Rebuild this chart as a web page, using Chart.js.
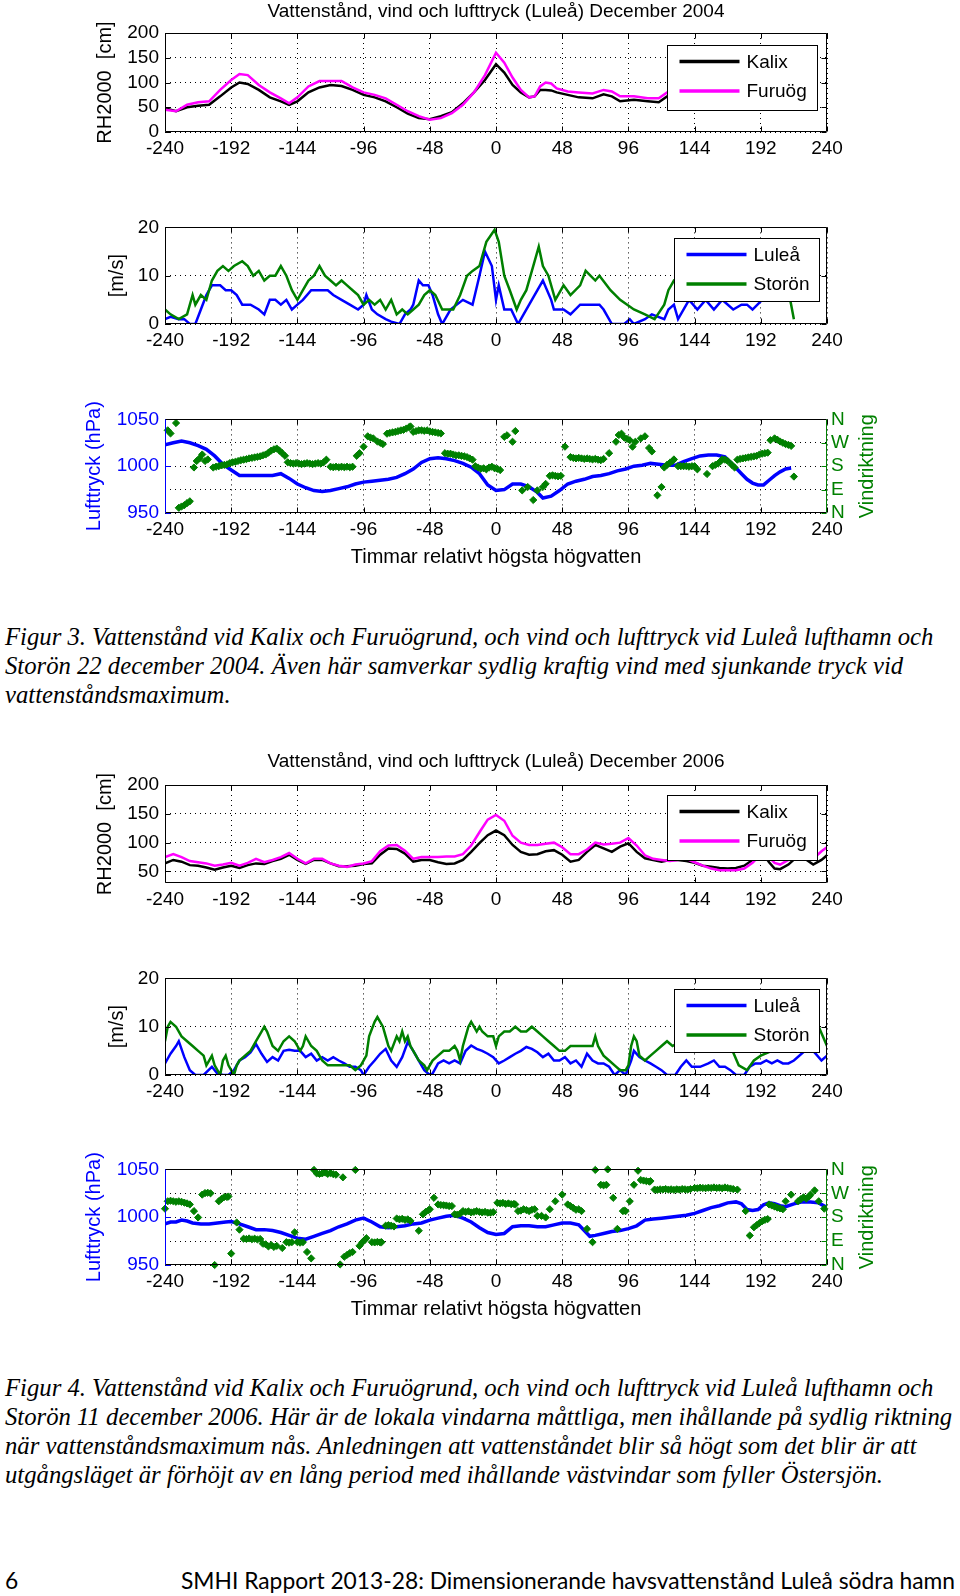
<!DOCTYPE html>
<html lang="sv">
<head>
<meta charset="utf-8">
<title>Vattenstånd, vind och lufttryck (Luleå)</title>
<script src="https://cdn.jsdelivr.net/npm/chart.js@4.4.1/dist/chart.umd.min.js"></script>
<style>
  html, body { margin: 0; padding: 0; background: #fff; }
  body { position: relative; width: 960px; height: 1596px; overflow: hidden; }
  canvas { position: absolute; left: 0; }
  .caption { position: absolute; left: 5px; font-family: "Liberation Serif", "Times New Roman", serif; font-style: italic; font-size: 24.7px; line-height: 29px; white-space: nowrap; color: #000; }
  .footer { position: absolute; top: 1565px; font-family: Lato, Calibri, sans-serif; font-size: 22.8px; line-height: 30px; white-space: nowrap; color: #000; }
</style>
</head>
<body>
<canvas id="lvl04" width="960" height="162" style="top:0px"></canvas>
<canvas id="wind04" width="960" height="144" style="top:210px"></canvas>
<canvas id="pres04" width="960" height="167" style="top:402px"></canvas>
<div class="caption" style="top:622px">Figur 3. Vattenstånd vid Kalix och Furuögrund, och vind och lufttryck vid Luleå lufthamn och<br>Storön 22 december 2004. Även här samverkar sydlig kraftig vind med sjunkande tryck vid<br>vattenståndsmaximum.</div>
<canvas id="lvl06" width="960" height="163" style="top:750px"></canvas>
<canvas id="wind06" width="960" height="144" style="top:961px"></canvas>
<canvas id="pres06" width="960" height="169" style="top:1152px"></canvas>
<div class="caption" style="top:1373px">Figur 4. Vattenstånd vid Kalix och Furuögrund, och vind och lufttryck vid Luleå lufthamn och<br>Storön 11 december 2006. Här är de lokala vindarna måttliga, men ihållande på sydlig riktning<br>när vattenståndsmaximum nås. Anledningen att vattenståndet blir så högt som det blir är att<br>utgångsläget är förhöjt av en lång period med ihållande västvindar som fyller Östersjön.</div>
<div class="footer" style="left:5px">6</div>
<div class="footer" style="left:181px">SMHI Rapport 2013-28: Dimensionerande havsvattenstånd Luleå södra hamn</div>

<script>
// tick labels
var hourTicks = [-240, -192, -144, -96, -48, 0, 48, 96, 144, 192, 240];
var levelTicks04 = [0, 50, 100, 150, 200];
var levelTicks06 = [50, 100, 150, 200];
var windTicks = [0, 10, 20];
var pressureTicks = [950, 1000, 1050];
var directionTicks = [0, 90, 180, 270, 360];
var directionLabels = ['N', 'E', 'S', 'W', 'N'];

// December 2004: water level (cm, RH2000)
var level04Hours = [-240, -232, -224, -216, -208, -200, -192, -186, -180, -172, -164, -156, -150, -144, -136, -128, -120, -112, -104, -96, -88, -80, -72, -64, -56, -48, -40, -32, -24, -16, -8, 0, 6, 12, 18, 24, 28, 32, 36, 40, 44, 52, 60, 70, 78, 84, 90, 100, 110, 118, 124, 140];
var kalix04 = [48, 42, 50, 53, 55, 72, 90, 100, 97, 85, 70, 62, 55, 62, 80, 90, 95, 93, 85, 75, 70, 62, 50, 37, 28, 26, 32, 40, 58, 80, 105, 137, 120, 95, 80, 70, 72, 85, 85, 84, 80, 75, 70, 68, 76, 72, 62, 65, 62, 60, 72, 80];
var furuog04 = [45, 42, 55, 60, 62, 85, 105, 117, 115, 95, 80, 68, 58, 70, 92, 103, 103, 103, 90, 80, 75, 68, 55, 42, 32, 25, 28, 38, 55, 80, 115, 160, 140, 110, 85, 70, 72, 92, 100, 98, 88, 82, 80, 78, 85, 82, 72, 72, 68, 68, 80, 85];

// December 2004: wind speed (m/s)
var lulea04Hours = [-240, -236, -230, -226, -222, -218, -214, -210, -206, -200, -196, -192, -188, -184, -178, -172, -168, -164, -160, -156, -152, -148, -144, -140, -134, -128, -122, -118, -112, -106, -100, -96, -94, -90, -86, -80, -76, -70, -66, -62, -60, -56, -53, -49, -46, -42, -39, -33, -24, -17, -12, -8, -3, 0, 2, 6, 11, 16, 20, 26, 34, 40, 42, 49, 54, 61, 75, 78, 84, 93, 97, 100, 108, 113, 122, 125, 129, 132, 140, 146, 152, 158, 164, 172, 178, 182, 186, 193];
var lulea04 = [1, 1.5, 1, 1, 0, 0, 3, 6, 8, 8, 7, 7, 6, 4, 4, 3, 2, 5, 5, 4, 5, 3, 4, 5, 7, 7, 7, 6, 5, 4, 3, 4, 6, 3, 2, 1, 0.5, 0, 2, 3, 4, 9, 8, 8, 6, 2, 0, 3, 5, 4, 10, 15, 12, 5, 8, 3, 3, 0, 2, 5, 9, 5, 3, 3, 2, 4, 4, 3, 0, 0, 1, 0, 1, 2, 1, 3, 4, 1, 5, 3, 5, 3, 5, 3, 4, 4, 3, 5];
var storon04Hours = [-240, -236, -230, -224, -220, -218, -214, -210, -206, -202, -198, -194, -190, -184, -180, -176, -172, -168, -164, -160, -156, -152, -148, -144, -140, -136, -132, -128, -124, -120, -116, -112, -108, -104, -100, -96, -92, -88, -84, -80, -76, -72, -68, -64, -60, -56, -52, -48, -44, -39, -31, -26, -21, -17, -12, -7, -1, 2, 6, 10, 15, 18, 22, 27, 31, 34, 38, 43, 49, 54, 61, 65, 72, 75, 83, 90, 100, 108, 115, 122, 125, 129, 140, 160, 180, 200, 212, 214, 216];
var storon04 = [3, 2, 1, 2, 6, 4, 6, 5, 9, 11, 12, 11, 12, 13, 12, 10, 11, 9, 10, 10, 12, 10, 7, 5, 7, 9, 10, 12, 10, 9, 8, 9, 8, 7, 6, 4, 5, 4, 5, 3, 5, 2, 3, 2, 3, 4, 6, 7, 6, 3, 3, 6, 10, 11, 12, 17, 19.5, 17, 10, 7, 3, 5, 7, 12, 16, 12, 10, 5, 8, 6, 8, 11, 9, 10, 7, 5, 3, 2, 1, 4, 7, 9, 8, 9, 8, 8, 7, 4, 1];

// December 2004: air pressure (hPa) and wind direction (degrees)
var pressure04Hours = [-240, -234, -228, -222, -216, -210, -204, -198, -192, -186, -180, -174, -168, -162, -156, -150, -144, -138, -132, -126, -120, -114, -108, -102, -96, -90, -84, -78, -72, -66, -60, -54, -48, -42, -36, -30, -24, -18, -12, -6, 0, 6, 12, 18, 24, 30, 34, 40, 46, 52, 58, 64, 70, 76, 82, 88, 94, 100, 106, 112, 118, 124, 130, 136, 142, 148, 154, 160, 166, 170, 174, 178, 182, 186, 190, 194, 198, 202, 206, 210, 214];
var pressure04 = [1023, 1025, 1027, 1025, 1022, 1018, 1011, 1002, 996, 990, 990, 990, 990, 990, 992, 987, 981, 977, 974, 973, 974, 976, 978, 981, 983, 984, 985, 986, 988, 992, 997, 1004, 1008, 1009, 1008, 1006, 1003, 999, 992, 980, 974, 975, 981, 981, 978, 972, 966, 968, 974, 981, 984, 986, 989, 990, 992, 995, 997, 1000, 1001, 1003, 1002, 1001, 1001, 1005, 1008, 1011, 1012, 1012, 1010, 1004, 998, 992, 986, 982, 980, 980, 985, 990, 994, 997, 998];
var direction04Hours = [-238, -236, -232, -230, -228, -226, -224, -222, -219, -217, -215, -213, -211, -209, -205, -203, -201, -199, -197, -195, -193, -191, -189, -187, -185, -183, -181, -179, -177, -175, -173, -171, -169, -167, -165, -163, -161, -159, -157, -155, -153, -151, -149, -147, -145, -143, -141, -139, -137, -135, -133, -131, -129, -127, -125, -123, -120, -118, -116, -114, -112, -110, -108, -106, -104, -101, -99, -96, -93, -91, -89, -86, -84, -82, -79, -77, -75, -73, -71, -69, -67, -65, -63, -62, -60, -58, -56, -54, -52, -50, -48, -46, -44, -42, -40, -37, -35, -33, -31, -29, -27, -25, -23, -21, -19, -17, -15, -13, -11, -9, -7, -5, -3, -1, 1, 3, 6, 8, 12, 14, 19, 23, 27, 30, 34, 36, 39, 41, 43, 45, 47, 50, 54, 56, 58, 60, 62, 64, 66, 68, 70, 72, 74, 76, 78, 82, 87, 89, 91, 93, 95, 97, 99, 101, 105, 108, 111, 113, 117, 120, 122, 124, 126, 128, 129, 132, 134, 136, 138, 140, 142, 144, 146, 153, 157, 159, 161, 163, 164, 166, 168, 171, 173, 175, 177, 179, 181, 183, 185, 187, 189, 191, 193, 195, 197, 199, 202, 204, 206, 208, 210, 212, 214, 216];
var direction04 = [318, 306, 346, 20, 25, 30, 38, 45, 175, 200, 210, 225, 200, 206, 175, 178, 180, 183, 185, 187, 192, 195, 197, 200, 203, 205, 207, 210, 212, 214, 216, 218, 222, 225, 232, 240, 245, 248, 240, 230, 220, 195, 192, 190, 192, 190, 188, 190, 192, 190, 188, 190, 192, 190, 195, 205, 178, 176, 178, 176, 178, 176, 178, 176, 178, 220, 230, 255, 295, 290, 287, 275, 270, 265, 305, 308, 310, 312, 315, 318, 320, 325, 330, 333, 312, 315, 318, 318, 316, 318, 314, 312, 310, 308, 306, 230, 228, 228, 225, 222, 222, 220, 218, 215, 210, 205, 180, 175, 170, 172, 168, 175, 178, 172, 170, 165, 293, 299, 274, 315, 87, 100, 50, 87, 100, 112, 143, 145, 143, 141, 143, 255, 215, 212, 210, 212, 210, 208, 210, 208, 206, 208, 205, 203, 208, 230, 274, 300, 305, 290, 285, 280, 255, 274, 287, 295, 250, 237, 68, 100, 175, 185, 193, 200, 206, 180, 180, 180, 180, 178, 180, 180, 168, 150, 180, 185, 190, 200, 206, 205, 200, 185, 175, 205, 208, 210, 212, 214, 216, 218, 220, 225, 228, 230, 232, 280, 287, 282, 275, 270, 265, 262, 258, 140];

// December 2006: water level (cm, RH2000)
var level06Hours = [-240, -234, -228, -222, -216, -210, -204, -198, -192, -186, -180, -174, -168, -162, -156, -150, -144, -138, -132, -126, -120, -114, -108, -102, -96, -90, -84, -78, -72, -66, -60, -54, -48, -42, -36, -30, -24, -18, -12, -6, 0, 6, 12, 18, 24, 30, 36, 42, 48, 54, 60, 66, 72, 78, 84, 90, 96, 102, 108, 114, 120, 126, 132, 138, 144, 150, 156, 162, 168, 174, 180, 186, 190, 194, 198, 202, 206, 212, 218, 224, 230, 236, 240];
var kalix06 = [64, 70, 67, 61, 60, 57, 53, 57, 60, 56, 61, 64, 63, 68, 72, 79, 70, 63, 70, 70, 64, 59, 59, 60, 63, 64, 79, 90, 89, 81, 67, 70, 70, 66, 63, 64, 70, 84, 99, 113, 121, 113, 96, 84, 79, 80, 85, 87, 79, 67, 70, 84, 96, 90, 84, 93, 99, 84, 73, 70, 67, 70, 70, 68, 65, 60, 58, 56, 55, 56, 60, 70, 80, 80, 66, 55, 54, 62, 75, 72, 62, 70, 78];
var furuog06 = [75, 80, 75, 68, 66, 64, 60, 62, 65, 60, 65, 72, 66, 70, 75, 82, 72, 64, 72, 72, 64, 60, 58, 62, 64, 68, 85, 95, 96, 86, 72, 75, 75, 75, 76, 76, 80, 95, 118, 140, 148, 138, 112, 100, 96, 96, 98, 100, 92, 80, 80, 88, 100, 97, 98, 100, 108, 95, 78, 72, 70, 68, 70, 72, 66, 60, 55, 52, 52, 52, 55, 65, 75, 82, 75, 65, 62, 70, 80, 78, 72, 85, 92];

// December 2006: wind speed (m/s)
var lulea06Hours = [-240, -236, -232, -230, -226, -222, -218, -212, -206, -202, -198, -194, -190, -186, -182, -178, -174, -170, -166, -162, -158, -154, -150, -146, -142, -138, -134, -130, -126, -122, -118, -114, -110, -106, -102, -98, -96, -92, -88, -84, -80, -76, -72, -68, -64, -60, -56, -52, -48, -46, -42, -38, -34, -30, -26, -22, -18, -14, -10, -6, -2, 2, 6, 10, 14, 18, 22, 26, 30, 34, 38, 42, 46, 50, 54, 58, 62, 66, 70, 74, 78, 82, 86, 90, 94, 98, 100, 104, 108, 112, 116, 120, 124, 130, 134, 138, 142, 148, 154, 158, 162, 166, 170, 174, 180, 184, 188, 192, 196, 200, 204, 208, 212, 216, 224, 230, 236, 240];
var lulea06 = [2.4, 4.4, 6, 7, 3.7, 1, 0, 0, 1.7, 0.3, 0, 0, 1, 3, 3.7, 4.7, 6.4, 4.4, 2.7, 3.7, 3, 5, 5.2, 5, 5, 3.7, 4.4, 3, 3.7, 3, 3.7, 3, 2.4, 1.7, 1.7, 1, 0, 1.7, 3, 4.4, 5.4, 3, 1.7, 3.7, 6.8, 5, 3, 1, 0, 0.3, 2.4, 3, 2.4, 3, 2.4, 5, 6.1, 5.4, 5, 4.4, 3.7, 2.4, 3, 3.7, 4.4, 5, 5.8, 5.4, 4.7, 3.7, 4.4, 3, 3, 3.7, 2.4, 3, 1.7, 4.4, 3, 2.4, 2.4, 1.7, 0, 1, 0, 3, 5, 3.7, 3, 2.4, 1.7, 1, 0, 0, 1.7, 3, 1.7, 1.7, 2.4, 3, 1.7, 1.7, 1, 0, 0, 1.7, 2.4, 2.4, 3, 2.4, 3, 2.4, 2.4, 3, 5, 5, 3, 4];
var storon06Hours = [-240, -238, -236, -232, -228, -224, -220, -216, -212, -210, -208, -206, -204, -202, -200, -198, -196, -194, -192, -190, -188, -186, -182, -178, -174, -170, -168, -166, -162, -158, -154, -150, -146, -142, -140, -138, -134, -130, -126, -122, -118, -114, -110, -106, -102, -98, -94, -92, -88, -86, -82, -80, -78, -76, -72, -70, -68, -66, -64, -62, -60, -58, -56, -52, -50, -48, -46, -42, -38, -34, -30, -28, -26, -24, -22, -20, -18, -16, -14, -12, -10, -6, -2, 0, 2, 6, 10, 14, 18, 22, 26, 30, 34, 38, 42, 46, 50, 54, 58, 62, 66, 70, 72, 74, 78, 82, 86, 90, 94, 96, 98, 100, 102, 104, 108, 112, 116, 120, 124, 128, 140, 155, 170, 176, 182, 187, 192, 200, 210, 218, 226, 234, 240];
var storon06 = [7, 10, 11, 10, 8, 7, 6, 5, 4, 2, 3, 4, 2, 1, 0, 3, 4, 2, 1, 0, 2, 3, 4, 5, 7, 9, 10, 9, 6, 5, 7, 8, 7, 5, 6, 8, 6, 5, 3, 2, 2, 2, 2, 2, 1, 2, 4, 8, 11, 12, 10, 8, 6, 5, 8, 7, 9, 7, 8, 6, 5, 4, 3, 2, 1, 2, 3, 4, 5, 5, 6, 5, 3, 6, 8, 10, 11, 10, 9, 10, 9, 8, 8, 6, 8, 9, 9, 10, 9, 9, 10, 9, 8, 7, 6, 5, 5, 6, 6, 6, 6, 6, 8, 6, 4, 3, 2, 1, 1, 2, 6, 8, 7, 4, 3, 4, 5, 6, 7, 6, 8, 7, 6, 2, 1, 3, 4, 5, 6, 8, 8, 10, 6];

// December 2006: air pressure (hPa) and wind direction (degrees)
var pressure06Hours = [-240, -236, -232, -228, -224, -220, -214, -208, -202, -196, -192, -186, -180, -174, -168, -162, -156, -150, -144, -138, -132, -126, -120, -114, -108, -102, -96, -90, -84, -78, -72, -66, -60, -54, -48, -42, -36, -30, -24, -18, -12, -6, 0, 6, 12, 18, 24, 30, 36, 42, 48, 54, 60, 64, 68, 72, 78, 84, 90, 96, 102, 108, 114, 120, 126, 132, 138, 144, 150, 156, 162, 168, 174, 178, 182, 186, 190, 194, 198, 202, 206, 210, 216, 222, 228, 234, 240];
var pressure06 = [993, 995, 995, 997, 996, 994, 993, 993, 994, 995, 995.5, 993, 990, 987, 987, 986, 984, 981, 978, 977, 980, 983, 986, 990, 993, 997, 999, 995, 990, 989, 990, 991, 993, 994, 997, 999, 1001, 1002, 999, 995, 989, 984, 982, 983, 990, 991, 991, 990, 990, 992, 994, 994, 992, 986, 980, 981, 983, 985, 986, 988, 991, 997, 998, 999, 1000, 1001, 1002, 1004, 1007, 1010, 1012, 1015, 1016, 1014, 1008, 1007, 1008, 1013, 1015, 1014, 1012, 1011, 1014, 1016, 1016, 1015, 1010];
var direction06Hours = [-240, -238, -236, -234, -232, -230, -228, -226, -224, -222, -219, -216, -213, -211, -209, -207, -204, -201, -199, -197, -195, -194, -192, -188, -186, -183, -181, -179, -177, -175, -173, -171, -169, -167, -165, -163, -161, -159, -155, -152, -150, -148, -146, -144, -142, -140, -137, -134, -132, -130, -128, -126, -124, -122, -120, -118, -116, -113, -111, -110, -108, -106, -104, -102, -99, -97, -95, -94, -90, -88, -86, -84, -83, -80, -78, -76, -74, -72, -70, -68, -66, -64, -62, -56, -53, -51, -49, -48, -45, -42, -40, -38, -36, -34, -32, -30, -28, -26, -24, -22, -20, -18, -16, -14, -12, -10, -8, -6, -4, -2, 1, 3, 5, 7, 9, 11, 13, 14, 16, 18, 20, 22, 24, 26, 28, 30, 33, 36, 39, 43, 48, 52, 54, 56, 58, 60, 62, 66, 70, 72, 76, 78, 80, 81, 85, 88, 92, 93, 94, 97, 100, 103, 105, 107, 109, 111, 112, 115, 117, 119, 121, 123, 125, 127, 129, 131, 133, 135, 137, 139, 141, 144, 146, 148, 150, 152, 154, 156, 158, 160, 162, 164, 166, 168, 170, 172, 175, 181, 184, 187, 189, 191, 193, 195, 197, 198, 200, 202, 204, 206, 208, 210, 214, 219, 221, 223, 225, 227, 228, 231, 234, 238];
var direction06 = [212, 240, 242, 240, 238, 240, 238, 235, 232, 228, 203, 179, 265, 271, 272, 270, 0, 240, 249, 256, 256, 258, 43, 160, 133, 99, 98, 100, 97, 99, 96, 98, 80, 78, 70, 75, 68, 72, 64, 86, 84, 86, 123, 86, 84, 86, 49, 25, 358, 345, 343, 345, 348, 343, 346, 342, 340, 2, 330, 31, 38, 45, 49, 358, 72, 85, 95, 101, 86, 85, 87, 85, 86, 148, 150, 148, 145, 175, 172, 174, 170, 172, 166, 129, 191, 200, 206, 210, 253, 228, 226, 225, 224, 222, 222, 191, 190, 193, 203, 200, 202, 198, 200, 203, 200, 198, 200, 197, 197, 199, 234, 232, 234, 230, 232, 229, 230, 228, 203, 205, 210, 207, 203, 208, 210, 185, 185, 179, 210, 240, 265, 228, 222, 215, 208, 210, 203, 136, 86, 358, 302, 300, 302, 360, 253, 136, 203, 205, 203, 240, 302, 355, 320, 318, 316, 314, 316, 284, 283, 285, 284, 286, 284, 285, 283, 285, 284, 286, 285, 284, 286, 290, 289, 291, 290, 289, 291, 290, 292, 290, 291, 289, 292, 290, 288, 286, 284, 203, 111, 142, 150, 158, 165, 170, 173, 228, 224, 220, 216, 213, 210, 240, 265, 240, 248, 255, 250, 258, 265, 281, 240, 212];

var BLACK = '#000000', MAGENTA = '#ff00ff', BLUE = '#0000ff', GREEN = '#008000';
var DOT = [1, 4];
var FONT = '"Liberation Sans", Arial, sans-serif';

Chart.defaults.font.family = FONT;
Chart.defaults.font.size = 19;
Chart.defaults.color = BLACK;

function pts(xs, ys) {
    return xs.map(function (x, i) { return { x: x, y: ys[i] }; });
}

function fixedTicks(list) {
    return function (axis) { axis.ticks = list.map(function (v) { return { value: v }; }); };
}

function xScale(withTitle) {
    return {
        type: 'linear', min: -240, max: 240,
        afterBuildTicks: fixedTicks(hourTicks),
        afterFit: function (axis) { axis.height = withTitle ? 56 : 30; },
        ticks: { padding: 5, autoSkip: false, maxRotation: 0, callback: function (v) { return String(v); } },
        grid: { color: BLACK, lineWidth: 1, drawTicks: false },
        border: { display: false, dash: DOT },
        title: {
            display: withTitle, text: 'Timmar relativt högsta högvatten',
            font: { size: 20 }, padding: { top: 0, bottom: 0 }
        }
    };
}

function yScale(min, max, list, title, titleX, color, grid) {
    return {
        type: 'linear', position: 'left', min: min, max: max,
        afterBuildTicks: fixedTicks(list),
        afterFit: function (axis) { axis.width = 165; },
        ticks: { padding: 6, color: color, autoSkip: false, callback: function (v) { return String(v); } },
        grid: { display: grid, color: BLACK, lineWidth: 1, drawTicks: false },
        border: { display: false, dash: DOT },
        title: { display: true, text: title, color: color, font: { size: 20 }, padding: { top: titleX - 12, bottom: 0 } }
    };
}

// box, inward tick marks, legend and right-hand title
var framePlugin = {
    id: 'frame',
    afterDatasetsDraw: function (chart, args, opts) {
        var a = chart.chartArea, ctx = chart.ctx;
        var xs = chart.scales.x, ys = chart.scales.y, y2 = chart.scales.y2;
        var L = Math.round(a.left) + 0.5, R = Math.round(a.right) - 0.5;
        var T = Math.round(a.top) + 0.5, B = Math.round(a.bottom) - 0.5;
        function seg(x1, y1, x2, y2p, color) {
            ctx.strokeStyle = color;
            ctx.beginPath(); ctx.moveTo(x1, y1); ctx.lineTo(x2, y2p); ctx.stroke();
        }
        ctx.save();
        ctx.lineWidth = 1;
        xs.ticks.forEach(function (t) {
            var px = Math.round(xs.getPixelForValue(t.value)) + 0.5;
            seg(px, B, px, B - 5, BLACK);
            seg(px, T, px, T + 5, BLACK);
        });
        ys.ticks.forEach(function (t) {
            var py = Math.round(ys.getPixelForValue(t.value)) + 0.5;
            seg(L, py, L + 5, py, opts.leftColor);
            if (!y2) seg(R, py, R - 5, py, BLACK);
        });
        if (y2) {
            y2.ticks.forEach(function (t) {
                var py = Math.round(y2.getPixelForValue(t.value)) + 0.5;
                seg(R, py, R - 5, py, opts.rightColor);
            });
        }
        seg(L, T, R, T, BLACK);
        seg(L, B, R, B, BLACK);
        seg(L, T, L, B, opts.leftColor);
        seg(R, T, R, B, opts.rightColor);

        if (opts.legend) {
            var lg = opts.legend;
            var bx = Math.round(a.right - lg.right - lg.width) + 0.5;
            var by = Math.round(a.top + lg.top) + 0.5;
            ctx.fillStyle = '#fff';
            ctx.fillRect(bx, by, lg.width, lg.height);
            ctx.strokeStyle = BLACK;
            ctx.strokeRect(bx, by, lg.width, lg.height);
            ctx.font = '19px ' + FONT;
            ctx.textAlign = 'left';
            ctx.textBaseline = 'middle';
            chart.data.datasets.forEach(function (ds, i) {
                var ly = by + 16 + i * 29.5;
                ctx.lineWidth = 3.5;
                seg(bx + 12, ly, bx + 72, ly, ds.borderColor);
                ctx.fillStyle = BLACK;
                ctx.fillText(ds.label, bx + 79, ly + 1);
            });
        }
        if (opts.rightTitle) {
            ctx.translate(opts.rightTitle.x, (a.top + a.bottom) / 2);
            ctx.rotate(-Math.PI / 2);
            ctx.fillStyle = opts.rightColor;
            ctx.font = '20px ' + FONT;
            ctx.textAlign = 'center';
            ctx.textBaseline = 'middle';
            ctx.fillText(opts.rightTitle.text, 0, 0);
        }
        ctx.restore();
    }
};

function baseOptions(extra) {
    var o = {
        responsive: false, animation: false, events: [],
        layout: { padding: { left: 0, right: 133, top: 15, bottom: 0 } },
        plugins: { legend: { display: false }, tooltip: { enabled: false }, title: { display: false } }
    };
    return Object.assign(o, extra);
}

function lineSet(label, xs, ys, color, width, order) {
    return {
        label: label, data: pts(xs, ys), borderColor: color, backgroundColor: color,
        borderWidth: width, pointRadius: 0, tension: 0, order: order
    };
}

function levelChart(id, year, hours, kalix, furuog, min, ticks, titleGap, legendTop) {
    var opts = baseOptions({
        scales: { x: xScale(false), y: yScale(min, 200, ticks, 'RH2000  [cm]', 105, BLACK, true) }
    });
    opts.layout.padding.top = 0;
    opts.plugins.title = {
        display: true, fullSize: false, text: 'Vattenstånd, vind och lufttryck (Luleå) December ' + year,
        font: { size: 19, weight: 'normal' }, color: BLACK, padding: { top: 0, bottom: titleGap }
    };
    opts.plugins.frame = { leftColor: BLACK, rightColor: BLACK, legend: { width: 150, height: 65, right: 10, top: legendTop } };
    new Chart(document.getElementById(id), {
        type: 'line',
        data: { datasets: [
            lineSet('Kalix', hours, kalix, BLACK, 2.5, 1),
            lineSet('Furuög', hours, furuog, MAGENTA, 2.5, 0)
        ] },
        options: opts,
        plugins: [framePlugin]
    });
}

function windChart(id, luleaHours, lulea, storonHours, storon) {
    var opts = baseOptions({
        scales: { x: xScale(false), y: yScale(0, 20, windTicks, '[m/s]', 117, BLACK, true) }
    });
    opts.plugins.frame = { leftColor: BLACK, rightColor: BLACK, legend: { width: 145, height: 63, right: 8, top: 11 } };
    new Chart(document.getElementById(id), {
        type: 'line',
        data: { datasets: [
            lineSet('Luleå', luleaHours, lulea, BLUE, 2.5, 1),
            lineSet('Storön', storonHours, storon, GREEN, 2.5, 0)
        ] },
        options: opts,
        plugins: [framePlugin]
    });
}

function pressureChart(id, pHours, pressure, dHours, direction) {
    var opts = baseOptions({
        scales: {
            x: xScale(true),
            y: yScale(950, 1050, pressureTicks, 'Lufttryck (hPa)', 94, BLUE, false),
            y2: {
                type: 'linear', position: 'right', min: 0, max: 360,
                afterBuildTicks: fixedTicks(directionTicks),
                afterFit: function (axis) { axis.width = 133; },
                ticks: { padding: 4, color: GREEN, autoSkip: false, callback: function (v, i) { return directionLabels[i]; } },
                grid: { color: BLACK, lineWidth: 1, drawTicks: false },
                border: { display: false, dash: DOT }
            }
        }
    });
    opts.layout.padding.right = 0;
    opts.plugins.frame = { leftColor: BLUE, rightColor: GREEN, rightTitle: { text: 'Vindriktning', x: 867 } };
    var dirSet = {
        label: 'Vindriktning', data: pts(dHours, direction), yAxisID: 'y2', showLine: false,
        pointStyle: 'rectRot', pointRadius: 3.6, pointBackgroundColor: GREEN, pointBorderColor: GREEN,
        pointBorderWidth: 1, borderColor: GREEN, clip: false, order: 0
    };
    var pSet = lineSet('Lufttryck', pHours, pressure, BLUE, 3.5, 1);
    pSet.yAxisID = 'y';
    new Chart(document.getElementById(id), {
        type: 'line',
        data: { datasets: [pSet, dirSet] },
        options: opts,
        plugins: [framePlugin]
    });
}

levelChart('lvl04', 2004, level04Hours, kalix04, furuog04, 0, levelTicks04, 10.2, 12);
windChart('wind04', lulea04Hours, lulea04, storon04Hours, storon04);
pressureChart('pres04', pressure04Hours, pressure04, direction04Hours, direction04);

levelChart('lvl06', 2006, level06Hours, kalix06, furuog06, 30, levelTicks06, 12.2, 10);
windChart('wind06', lulea06Hours, lulea06, storon06Hours, storon06);
pressureChart('pres06', pressure06Hours, pressure06, direction06Hours, direction06);
</script>
</body>
</html>
